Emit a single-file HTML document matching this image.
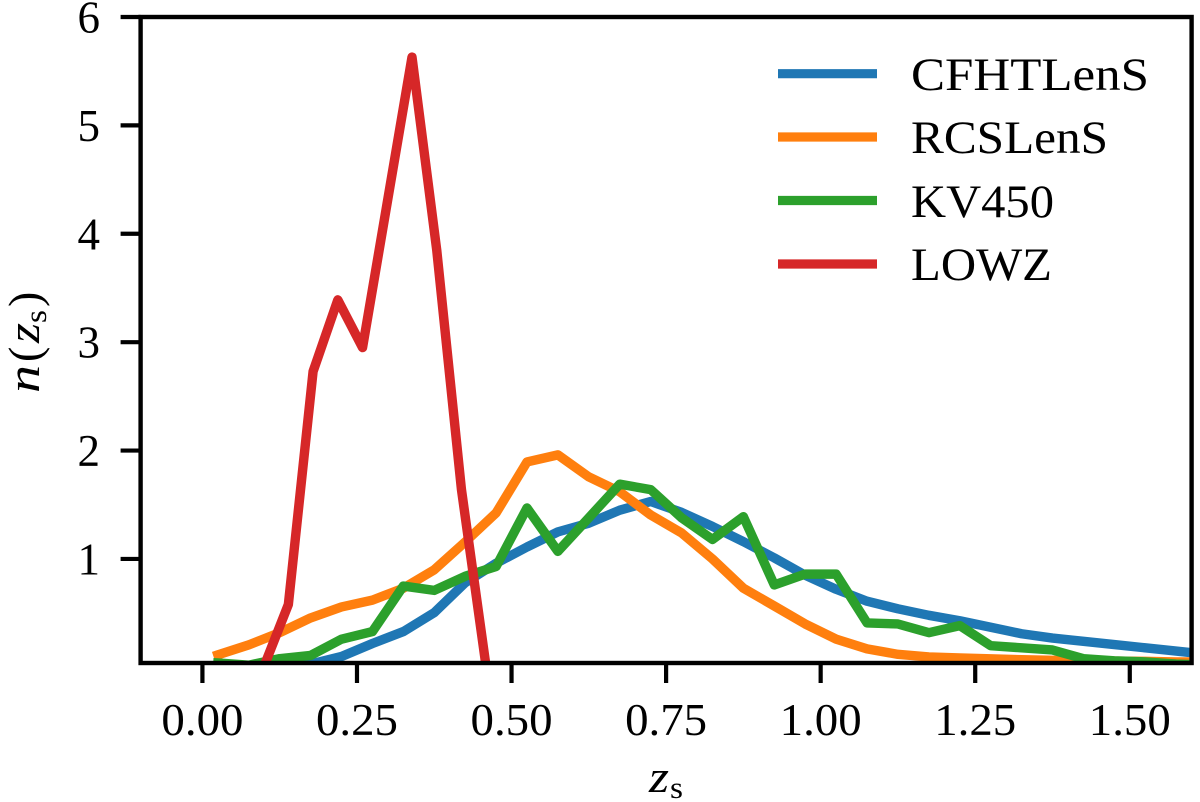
<!DOCTYPE html>
<html lang="en">
<head>
<meta charset="utf-8">
<title>n(z_s) redshift distributions</title>
<style>
html,body{margin:0;padding:0;background:#fff;width:1200px;height:802px;overflow:hidden}
svg{display:block}
text{font-family:"Liberation Serif",serif;fill:#000}
</style>
</head>
<body>
<svg id="chart" xmlns="http://www.w3.org/2000/svg" width="1200" height="802" viewBox="0 0 1200 802">
  <defs><clipPath id="plot-clip"><rect x="140.6" y="17" width="1051" height="646"/></clipPath></defs>
  <g id="series" clip-path="url(#plot-clip)"></g>
  <g id="ticks"></g>
  <g fill="none" stroke="#000" stroke-width="4.4">
    <rect x="140.6" y="17" width="1051" height="646"/>
  </g>
  <text font-size="46"><tspan font-style="italic" x="649" y="792" textLength="20" lengthAdjust="spacingAndGlyphs">z</tspan><tspan font-size="31" x="670" y="798" textLength="13" lengthAdjust="spacingAndGlyphs">s</tspan></text>
  <g transform="translate(39 393) rotate(-90)">
    <text font-size="46"><tspan font-style="italic" x="0" y="0" textLength="28" lengthAdjust="spacingAndGlyphs">n</tspan><tspan x="31" y="1">(</tspan><tspan font-style="italic" x="50" y="0" textLength="20" lengthAdjust="spacingAndGlyphs">z</tspan><tspan font-size="31" x="70" y="7" textLength="13" lengthAdjust="spacingAndGlyphs">s</tspan><tspan x="86" y="1">)</tspan></text>
  </g>
  <g>
    <g>
      <line x1="778" x2="877" y1="73.7" y2="73.7" stroke="#1f77b4" stroke-width="9.2"/>
      <text x="911" y="90" font-size="47" textLength="238" lengthAdjust="spacingAndGlyphs">CFHTLenS</text>
    </g>
    <g>
      <line x1="778" x2="877" y1="137" y2="137" stroke="#ff7f0e" stroke-width="9.2"/>
      <text x="911" y="153" font-size="47" textLength="197" lengthAdjust="spacingAndGlyphs">RCSLenS</text>
    </g>
    <g>
      <line x1="778" x2="877" y1="200.5" y2="200.5" stroke="#2ca02c" stroke-width="9.2"/>
      <text x="911" y="217" font-size="47" textLength="143" lengthAdjust="spacingAndGlyphs">KV450</text>
    </g>
    <g>
      <line x1="778" x2="877" y1="264" y2="264" stroke="#d62728" stroke-width="9.2"/>
      <text x="911" y="280" font-size="47" textLength="141" lengthAdjust="spacingAndGlyphs">LOWZ</text>
    </g>
  </g>
</svg>
<script>
const xTickValues = [0, 0.25, 0.5, 0.75, 1, 1.25, 1.5];
const xTickLabels = ["0.00", "0.25", "0.50", "0.75", "1.00", "1.25", "1.50"];
const yTickValues = [1, 2, 3, 4, 5, 6];
const yTickLabels = ["1", "2", "3", "4", "5", "6"];

const surveyZ = [0.025, 0.075, 0.125, 0.175, 0.225, 0.275, 0.325, 0.375, 0.425, 0.475, 0.525, 0.575, 0.625, 0.675, 0.725, 0.775, 0.825, 0.875, 0.925, 0.975, 1.025, 1.075, 1.125, 1.175, 1.225, 1.275, 1.325, 1.375, 1.425, 1.475, 1.525, 1.575, 1.625];
const cfhtValues = [0, 0, 0.01, 0.03, 0.1, 0.22, 0.33, 0.505, 0.78, 0.96, 1.11, 1.25, 1.33, 1.45, 1.53, 1.43, 1.3, 1.16, 1.01, 0.85, 0.72, 0.61, 0.54, 0.48, 0.43, 0.37, 0.31, 0.27, 0.24, 0.21, 0.18, 0.15, 0.12];
const rcsValues = [0.115, 0.207, 0.32, 0.456, 0.557, 0.62, 0.73, 0.9, 1.157, 1.424, 1.895, 1.96, 1.757, 1.62, 1.406, 1.24, 1, 0.73, 0.566, 0.4, 0.26, 0.17, 0.12, 0.096, 0.087, 0.078, 0.07, 0.065, 0.06, 0.058, 0.055, 0.05, 0.05];
const kvValues = [0.04, 0.02, 0.08, 0.11, 0.26, 0.33, 0.75, 0.71, 0.84, 0.93, 1.47, 1.07, 1.38, 1.69, 1.64, 1.38, 1.18, 1.39, 0.76, 0.86, 0.86, 0.41, 0.4, 0.32, 0.385, 0.2, 0.18, 0.16, 0.08, 0.06, 0.05, 0.03, 0.02];
const lowzZ = [0.099, 0.139, 0.179, 0.219, 0.259, 0.299, 0.339, 0.379, 0.419, 0.459];
const lowzValues = [0, 0.58, 2.73, 3.39, 2.95, 4.29, 5.63, 3.85, 1.64, 0];

const NS = "http://www.w3.org/2000/svg";
const xDomain = [-0.1, 1.6], xRange = [140.6, 1191.6];
const yDomain = [0.04, 6], yRange = [663, 17];
function xScale(v) { return xRange[0] + (v - xDomain[0]) / (xDomain[1] - xDomain[0]) * (xRange[1] - xRange[0]); }
function yScale(v) { return yRange[0] + (v - yDomain[0]) / (yDomain[1] - yDomain[0]) * (yRange[1] - yRange[0]); }

const seriesGroup = document.getElementById("series");
function drawSeries(zs, vals, color, name) {
  const p = document.createElementNS(NS, "polyline");
  
  
  p.setAttribute("points", zs.map((z, i) => xScale(z).toFixed(2) + "," + yScale(vals[i]).toFixed(2)).join(" "));
  p.setAttribute("fill", "none");
  p.setAttribute("stroke", color);
  p.setAttribute("stroke-width", "9.4");
  p.setAttribute("stroke-linejoin", "round");
  p.setAttribute("stroke-linecap", "square");
  seriesGroup.appendChild(p);
}
drawSeries(surveyZ, cfhtValues, "#1f77b4", "series-cfhtlens");
drawSeries(surveyZ, rcsValues, "#ff7f0e", "series-rcslens");
drawSeries(surveyZ, kvValues, "#2ca02c", "series-kv450");
drawSeries(lowzZ, lowzValues, "#d62728", "series-lowz");

const tickGroup = document.getElementById("ticks");
xTickValues.forEach((v, i) => {
  const px = xScale(v);
  const t = document.createElementNS(NS, "line");
  
  
  t.setAttribute("x1", px); t.setAttribute("x2", px);
  t.setAttribute("y1", 663); t.setAttribute("y2", 683);
  t.setAttribute("stroke", "#000"); t.setAttribute("stroke-width", "4.2");
  tickGroup.appendChild(t);
  const l = document.createElementNS(NS, "text");
  
  
  l.setAttribute("x", px - 41); l.setAttribute("y", 735);
  l.setAttribute("font-size", "45");
  l.setAttribute("textLength", "82");
  l.setAttribute("lengthAdjust", "spacingAndGlyphs");
  l.textContent = xTickLabels[i];
  tickGroup.appendChild(l);
});
yTickValues.forEach((v, i) => {
  const py = yScale(v);
  const t = document.createElementNS(NS, "line");
  
  
  t.setAttribute("x1", 120.6); t.setAttribute("x2", 140.6);
  t.setAttribute("y1", py); t.setAttribute("y2", py);
  t.setAttribute("stroke", "#000"); t.setAttribute("stroke-width", "4.2");
  tickGroup.appendChild(t);
  const l = document.createElementNS(NS, "text");
  
  
  l.setAttribute("x", 100); l.setAttribute("y", py + 15.5);
  l.setAttribute("text-anchor", "end");
  l.setAttribute("font-size", "45");
  l.textContent = yTickLabels[i];
  tickGroup.appendChild(l);
});
</script>
</body>
</html>
